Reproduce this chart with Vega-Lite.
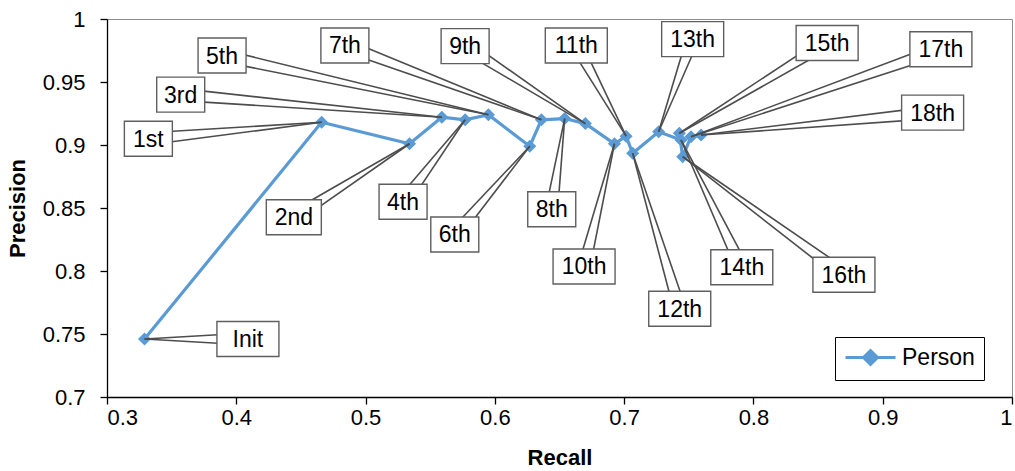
{
  "$schema": "https://vega.github.io/schema/vega-lite/v6.json",
  "width": 905,
  "height": 378,
  "autosize": "none",
  "padding": {"left": 107, "top": 19, "right": 3, "bottom": 74},
  "background": "white",
  "config": {
    "font": "Liberation Sans",
    "view": {"stroke": "#8c8c8c", "strokeWidth": 1},
    "axis": {
      "grid": false,
      "domainColor": "black",
      "tickColor": "black",
      "domainWidth": 1.3,
      "tickWidth": 1.3,
      "tickSize": 7,
      "labelFont": "Liberation Sans",
      "labelFontSize": 22,
      "labelColor": "black",
      "titleFont": "Liberation Sans",
      "titleFontSize": 22,
      "titleFontWeight": "bold",
      "titleColor": "black"
    }
  },
  "data": {
    "values": [
      {"step": 0, "label": "Init", "series": "Person", "recall": 0.329, "precision": 0.746, "lx": 0.409, "ly": 0.746},
      {"step": 1, "label": "1st", "series": "Person", "recall": 0.466, "precision": 0.918, "lx": 0.332, "ly": 0.905},
      {"step": 2, "label": "2nd", "series": "Person", "recall": 0.534, "precision": 0.901, "lx": 0.4445, "ly": 0.8426},
      {"step": 3, "label": "3rd", "series": "Person", "recall": 0.559, "precision": 0.922, "lx": 0.357, "ly": 0.940},
      {"step": 4, "label": "4th", "series": "Person", "recall": 0.577, "precision": 0.920, "lx": 0.529, "ly": 0.855},
      {"step": 5, "label": "5th", "series": "Person", "recall": 0.595, "precision": 0.924, "lx": 0.389, "ly": 0.971},
      {"step": 6, "label": "6th", "series": "Person", "recall": 0.627, "precision": 0.899, "lx": 0.569, "ly": 0.829},
      {"step": 7, "label": "7th", "series": "Person", "recall": 0.636, "precision": 0.920, "lx": 0.484, "ly": 0.979},
      {"step": 8, "label": "8th", "series": "Person", "recall": 0.654, "precision": 0.921, "lx": 0.644, "ly": 0.849},
      {"step": 9, "label": "9th", "series": "Person", "recall": 0.670, "precision": 0.917, "lx": 0.577, "ly": 0.9785},
      {"step": 10, "label": "10th", "series": "Person", "recall": 0.6925, "precision": 0.901, "lx": 0.669, "ly": 0.8036},
      {"step": 11, "label": "11th", "series": "Person", "recall": 0.7015, "precision": 0.907, "lx": 0.663, "ly": 0.979},
      {"step": 12, "label": "12th", "series": "Person", "recall": 0.7066, "precision": 0.8934, "lx": 0.743, "ly": 0.770},
      {"step": 13, "label": "13th", "series": "Person", "recall": 0.7267, "precision": 0.9105, "lx": 0.753, "ly": 0.984},
      {"step": 14, "label": "14th", "series": "Person", "recall": 0.744, "precision": 0.904, "lx": 0.791, "ly": 0.803},
      {"step": 15, "label": "15th", "series": "Person", "recall": 0.7427, "precision": 0.9093, "lx": 0.857, "ly": 0.981},
      {"step": 16, "label": "16th", "series": "Person", "recall": 0.7453, "precision": 0.8907, "lx": 0.870, "ly": 0.797},
      {"step": 17, "label": "17th", "series": "Person", "recall": 0.7517, "precision": 0.9066, "lx": 0.945, "ly": 0.976},
      {"step": 18, "label": "18th", "series": "Person", "recall": 0.7595, "precision": 0.9079, "lx": 0.9386, "ly": 0.9257}
    ]
  },
  "encoding": {
    "x": {
      "field": "recall", "type": "quantitative",
      "scale": {"domain": [0.3, 1], "nice": false, "zero": false},
      "axis": {"title": "Recall", "values": [0.3, 0.4, 0.5, 0.6, 0.7, 0.8, 0.9, 1], "format": "~g", "labelPadding": 3, "titlePadding": 19}
    },
    "y": {
      "field": "precision", "type": "quantitative",
      "scale": {"domain": [0.7, 1], "nice": false, "zero": false},
      "axis": {"title": "Precision", "values": [0.7, 0.75, 0.8, 0.85, 0.9, 0.95, 1], "format": "~g", "labelPadding": 15, "titlePadding": 13}
    }
  },
  "layer": [
    {
      "mark": {"type": "line", "strokeWidth": 3.2},
      "encoding": {
        "order": {"field": "step", "type": "quantitative"},
        "color": {
          "field": "series", "type": "nominal",
          "scale": {"range": ["#5B9BD5"]},
          "legend": {
            "title": null,
            "orient": "none",
            "legendX": 728,
            "legendY": 318,
            "strokeColor": "black",
            "fillColor": "white",
            "padding": 9,
            "labelFontSize": 23,
            "labelFont": "Liberation Sans",
            "labelColor": "black",
            "labelOffset": 35,
            "symbolType": "M-1,0H4M1.5,-0.7L2.2,0L1.5,0.7L0.8,0Z",
            "symbolSize": 400,
            "symbolStrokeWidth": 3,
            "encode": {"symbols": {"update": {"fill": {"value": "#5B9BD5"}, "stroke": {"value": "#5B9BD5"}}}}
          }
        }
      }
    },
    {
      "mark": {"type": "point", "shape": "diamond", "filled": true, "size": 170, "color": "#5B9BD5", "opacity": 1}
    },
    {
      "mark": {
        "type": "rule", "color": "#4d4d4d", "strokeWidth": 1.6,
        "x2Offset": {"expr": "-6*((datum.precision-datum.ly)*1260)/sqrt(pow((datum.lx-datum.recall)*1293,2)+pow((datum.precision-datum.ly)*1260,2))"},
        "y2Offset": {"expr": "6*((datum.lx-datum.recall)*1293)/sqrt(pow((datum.lx-datum.recall)*1293,2)+pow((datum.precision-datum.ly)*1260,2))"}
      },
      "encoding": {
        "x2": {"field": "lx"},
        "y2": {"field": "ly"}
      }
    },
    {
      "mark": {
        "type": "rule", "color": "#4d4d4d", "strokeWidth": 1.6,
        "x2Offset": {"expr": "6*((datum.precision-datum.ly)*1260)/sqrt(pow((datum.lx-datum.recall)*1293,2)+pow((datum.precision-datum.ly)*1260,2))"},
        "y2Offset": {"expr": "-6*((datum.lx-datum.recall)*1293)/sqrt(pow((datum.lx-datum.recall)*1293,2)+pow((datum.precision-datum.ly)*1260,2))"}
      },
      "encoding": {
        "x2": {"field": "lx"},
        "y2": {"field": "ly"}
      }
    },
    {
      "mark": {
        "type": "rect", "fill": "white", "stroke": "#5f5f5f", "strokeWidth": 1.4,
        "xOffset": {"expr": "datum.label=='2nd' ? -27.5 : (length(datum.label)>3 ? -31 : -24)"},
        "x2Offset": {"expr": "datum.label=='2nd' ? 27.5 : (length(datum.label)>3 ? 31 : 24)"},
        "yOffset": -17.5,
        "y2Offset": 17.5
      },
      "encoding": {
        "x": {"field": "lx", "type": "quantitative"},
        "x2": {"field": "lx"},
        "y": {"field": "ly", "type": "quantitative"},
        "y2": {"field": "ly"}
      }
    },
    {
      "mark": {"type": "text", "fontSize": 23, "font": "Liberation Sans", "color": "black", "align": "center", "baseline": "middle", "dy": 1},
      "encoding": {
        "x": {"field": "lx", "type": "quantitative"},
        "y": {"field": "ly", "type": "quantitative"},
        "text": {"field": "label"}
      }
    }
  ]
}
